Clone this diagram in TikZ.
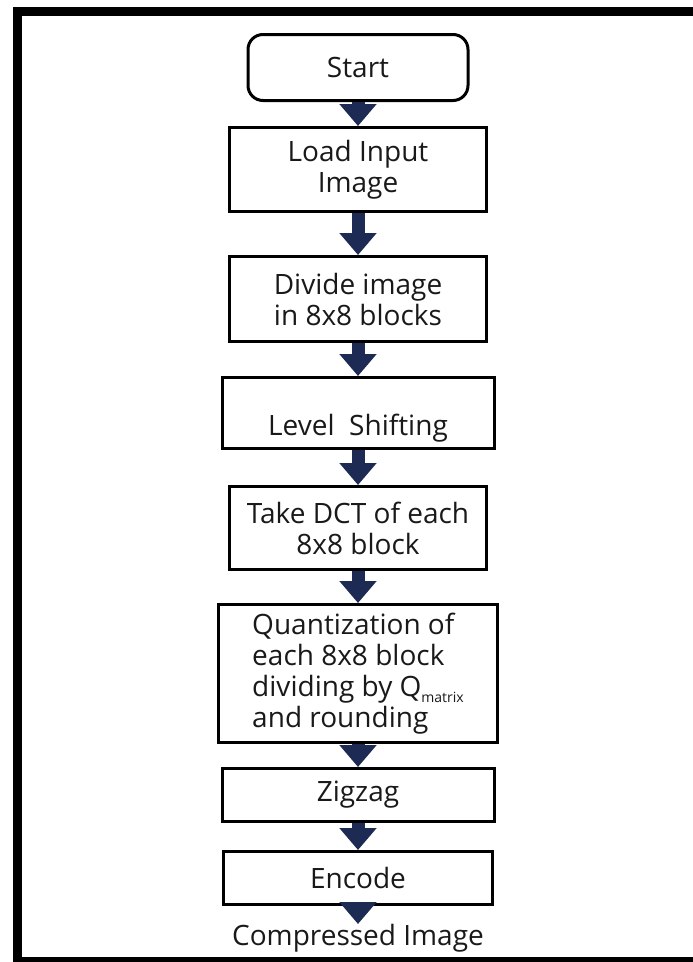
\documentclass[tikz,border=0pt]{standalone}
\usepackage{fontspec}
\setmainfont{Open Sans}
\usetikzlibrary{positioning, arrows.meta}
\definecolor{arrownavy}{RGB}{28,42,84}
\definecolor{textgray}{RGB}{25,25,25}

\begin{document}
\begin{tikzpicture}[x=1pt, y=-1pt, node distance=30pt,
        procbox/.style={draw, line width=3pt, minimum width=257pt, text=textgray, align=center, font=\fontsize{28}{31}\selectfont},
        flowarrow/.style={line width=13pt, draw=arrownavy, -{Triangle[width=36pt, length=22pt]}}]
        \useasboundingbox (0,0) rectangle (693,962);
        \draw[line width=9pt] (693,11.5) -- (17.5,11.5) -- (17.5,961) -- (693,961);

        \node[procbox, rounded corners=15pt, minimum width=220pt, minimum height=66pt] (start) at (358,67.5) {Start};
        \node[procbox, minimum height=84pt, below=24pt of start]                    (load)    {Load Input\\Image};
        \node[procbox, minimum height=85pt, below=42pt of load]                     (divide)  {Divide image\\in 8x8 blocks};
        \node[procbox, minimum width=272pt, minimum height=71pt, text height=48pt, text depth=4pt, below=33pt of divide] (level) {Level\ \ Shifting};
        \node[procbox, minimum height=83pt, below=35pt of level]                    (dct)     {Take DCT of each\\8x8 block};
        \node[procbox, minimum width=279pt, minimum height=138pt, align=left, below=32pt of dct] (quant)
            {Quantization of\\each 8x8 block\\dividing by Q\raisebox{-0.4ex}{\fontsize{14}{14}\selectfont matrix}\\and rounding};
        \node[procbox, minimum width=272pt, minimum height=53pt, below=23pt of quant] (zigzag)  {Zigzag};
        \node[procbox, minimum width=269pt, minimum height=53pt, below=27pt of zigzag] (encode) {Encode};
        \node[inner sep=0pt, text=textgray, font=\fontsize{28}{31}\selectfont, below=18pt of encode] (output) {Compressed Image};

        \draw[flowarrow] (start)  -- (load);
        \draw[flowarrow] (load)   -- (divide);
        \draw[flowarrow] (divide) -- (level);
        \draw[flowarrow] (level)  -- (dct);
        \draw[flowarrow] (dct)    -- (quant);
        \draw[flowarrow] (quant)  -- (zigzag);
        \draw[flowarrow] (zigzag) -- (encode);
        \draw[flowarrow] (encode) -- (output);
    \end{tikzpicture}
\end{document}
